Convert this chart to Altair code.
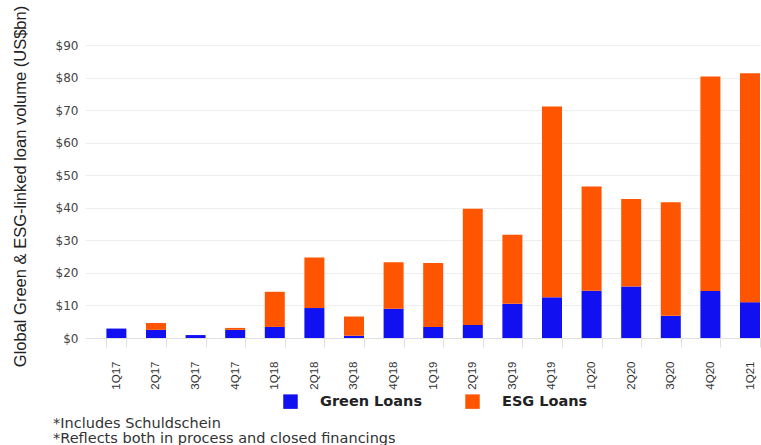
import altair as alt
import pandas as pd

quarters = ["1Q17", "2Q17", "3Q17", "4Q17", "1Q18", "2Q18", "3Q18", "4Q18", "1Q19",
            "2Q19", "3Q19", "4Q19", "1Q20", "2Q20", "3Q20", "4Q20", "1Q21"]
green_loans = [2.9, 2.5, 0.9, 2.5, 3.4, 9.2, 0.7, 9.0, 3.4,
               4.0, 10.5, 12.5, 14.5, 15.8, 6.8, 14.4, 11.0]
total_loans = [2.9, 4.6, 0.9, 3.1, 14.2, 24.7, 6.6, 23.3, 23.0,
               39.7, 31.7, 71.1, 46.5, 42.7, 41.7, 80.3, 81.3]
series_names = ["Green Loans", "ESG Loans"]
series_colors = ["#1010F0", "#FF5500"]
y_ticks = [0, 10, 20, 30, 40, 50, 60, 70, 80, 90]
footnotes = ["*Includes Schuldschein", "*Reflects both in process and closed financings"]

rows = []
for q, g, t in zip(quarters, green_loans, total_loans):
    rows.append({"quarter": q, "series": "Green Loans", "value": g, "order": 0})
    rows.append({"quarter": q, "series": "ESG Loans", "value": round(t - g, 2), "order": 1})
df = pd.DataFrame(rows)

chart = alt.Chart(df).mark_bar().encode(
    x=alt.X("quarter:N", sort=quarters,
            scale=alt.Scale(paddingInner=0.495, paddingOuter=0.27, align=1),
            axis=alt.Axis(title=None, labelAngle=270, labelFont="Liberation Sans",
                          labelFontSize=11.5, labelColor="#333333", labelPadding=14,
                          labelAlign="right", labelBaseline="middle",
                          tickBand="extent", ticks=True, tickSize=9, tickColor="#e0e0e0",
                          domainColor="#e0e0e0", grid=False)),
    y=alt.Y("value:Q", stack="zero",
            scale=alt.Scale(domain=[0, 90], nice=False),
            axis=alt.Axis(values=y_ticks, format="$,.0f",
                          title="Global Green & ESG-linked loan volume (US$bn)",
                          titleFont="Liberation Sans", titleFontSize=16.5,
                          titleFontWeight="normal", titleColor="#222222",
                          titleX=-65, titleY=141, titleAngle=270, titleBaseline="middle",
                          titleAlign="center",
                          labelFont="DejaVu Sans", labelFontSize=12, labelColor="#444444",
                          labelPadding=7, ticks=False, domain=False,
                          grid=True, gridColor="#eeeeee", gridWidth=1)),
    color=alt.Color("series:N",
                    scale=alt.Scale(domain=series_names, range=series_colors),
                    legend=alt.Legend(title=None, orient="none", direction="horizontal",
                                      legendX=198, legendY=349, padding=0,
                                      symbolType="square", symbolSize=210,
                                      symbolStrokeWidth=0, symbolOpacity=1,
                                      labelFont="DejaVu Sans", labelFontWeight="bold",
                                      labelFontSize=14.5, labelColor="#222222",
                                      labelOffset=22, columnPadding=42)),
    order=alt.Order("order:Q"),
).properties(
    width=675, height=293,
    title=alt.TitleParams(text=footnotes, orient="bottom", anchor="start", dx=41,
                          offset=8, font="DejaVu Sans", fontSize=14.5,
                          fontWeight="normal", color="#333333", lineHeight=15,
                          baseline="top"),
).configure(
    autosize=alt.AutoSizeParams(type="none"),
    padding={"left": 85, "top": 45, "right": 1, "bottom": 107},
    background="white",
).configure_view(stroke=None)

chart.save("out.html", embed_options={"renderer": "svg", "actions": False})
